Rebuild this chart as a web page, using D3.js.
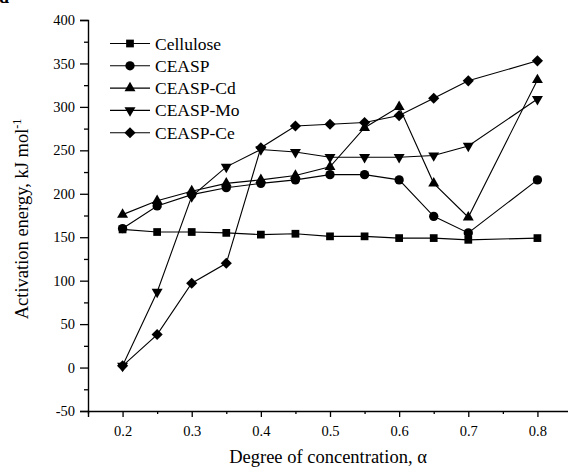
<!DOCTYPE html>
<html>
<head>
<meta charset="utf-8">
<script src="https://cdn.jsdelivr.net/npm/d3@7"></script>
<style>
  html, body { margin: 0; padding: 0; background: #fff; }
  svg { display: block; font-family: "Liberation Serif", "Times New Roman", serif; }
</style>
</head>
<body>
<svg id="chart" width="568" height="468"></svg>
<script>
// Degree of conversion values (x) and activation energies (kJ/mol) per sample
const alpha = [0.2, 0.25, 0.3, 0.35, 0.4, 0.45, 0.5, 0.55, 0.6, 0.65, 0.7, 0.8];
const seriesNames = ["Cellulose", "CEASP", "CEASP-Cd", "CEASP-Mo", "CEASP-Ce"];
const cellulose = [159, 156, 156, 155, 153, 154, 151, 151, 149, 149, 147, 149];
const ceasp     = [160, 186, 199, 207, 212, 216, 222, 222, 216, 174, 155, 216];
const ceaspCd   = [176, 192, 203, 212, 216, 221, 231, 276, 300, 212, 173, 331];
const ceaspMo   = [2, 87, 197, 231, 251, 248, 242, 242, 242, 244, 255, 309];
const ceaspCe   = [2, 38, 97, 120, 253, 278, 280, 282, 290, 310, 330, 353];
const xTicks = [0.2, 0.3, 0.4, 0.5, 0.6, 0.7, 0.8];
const yTicks = [-50, 0, 50, 100, 150, 200, 250, 300, 350, 400];

const seriesValues = [cellulose, ceasp, ceaspCd, ceaspMo, ceaspCe];

// square-on-point diamond (equal width and height)
const symbolRhombus = {
  draw(context, size) {
    const r = Math.sqrt(size / 2);
    context.moveTo(0, -r);
    context.lineTo(r, 0);
    context.lineTo(0, r);
    context.lineTo(-r, 0);
    context.closePath();
  }
};
const symbolTypes = [d3.symbolSquare, d3.symbolCircle, d3.symbolTriangle, d3.symbolTriangle, symbolRhombus];
const symbolSizes = [60, 68, 52, 52, 62];
const symbolFlip = [false, false, false, true, false];

const svg = d3.select("#chart");
const plotLeft = 88, plotTop = 20, plotRight = 572, plotBottom = 411;

const x = d3.scaleLinear().domain([0.15, 0.85]).range([plotLeft, plotRight]);
const y = d3.scaleLinear().domain([-50, 400]).range([plotBottom, plotTop]);

function markerPath(s) {
  return d3.symbol().type(symbolTypes[s]).size(symbolSizes[s])();
}
function markerTransform(s, px, py) {
  return `translate(${px},${py})` + (symbolFlip[s] ? " rotate(180)" : "");
}

// data lines
const line = d3.line().x((d, i) => x(alpha[i])).y(d => y(d));
const g = svg.append("g");
seriesValues.forEach(vals => {
  g.append("path")
    .attr("d", line(vals))
    .attr("fill", "none")
    .attr("stroke", "#000")
    .attr("stroke-width", 1.1);
});
seriesValues.forEach((vals, s) => {
  g.selectAll(null)
    .data(vals)
    .enter()
    .append("path")
    .attr("d", markerPath(s))
    .attr("transform", (d, i) => markerTransform(s, x(alpha[i]), y(d)))
    .attr("fill", "#000");
});

// axes
const tickFont = "14.5px";
const xAxis = d3.axisBottom(x).tickValues(xTicks).tickSize(6).tickPadding(9).tickFormat(d3.format(".1f"));
const xMinor = d3.axisBottom(x).tickValues([0.15, 0.25, 0.35, 0.45, 0.55, 0.65, 0.75, 0.85]).tickSize(3).tickFormat("");
const yAxis = d3.axisLeft(y).tickValues(yTicks).tickSize(8).tickPadding(5).tickFormat(d => String(d));
const yMinor = d3.axisLeft(y).tickValues([-25, 25, 75, 125, 175, 225, 275, 325, 375]).tickSize(4).tickFormat("");

function styleAxis(sel) {
  sel.select(".domain").attr("stroke", "#000").attr("stroke-width", 1.4);
  sel.selectAll(".tick line").attr("stroke", "#000").attr("stroke-width", 1.3);
  sel.selectAll(".tick text").attr("fill", "#000").style("font-size", tickFont)
     .style("font-family", "'Liberation Serif', 'Times New Roman', serif");
}
svg.append("g").attr("transform", `translate(0,${plotBottom})`).call(xAxis).call(styleAxis);
svg.append("g").attr("transform", `translate(0,${plotBottom})`).call(xMinor).call(styleAxis).select(".domain").remove();
svg.append("g").attr("transform", `translate(${plotLeft},0)`).call(yAxis).call(styleAxis);
svg.append("g").attr("transform", `translate(${plotLeft},0)`).call(yMinor).call(styleAxis).select(".domain").remove();

// axis titles
svg.append("text")
  .attr("x", 328).attr("y", 463)
  .attr("text-anchor", "middle")
  .style("font-size", "18.5px")
  .text("Degree of concentration, α");

const yTitle = svg.append("text")
  .attr("transform", "translate(27.5,219) rotate(-90)")
  .attr("text-anchor", "middle")
  .style("font-size", "18.5px");
yTitle.append("tspan").text("Activation energy, kJ mol");
yTitle.append("tspan").attr("dy", -7).style("font-size", "12px").text("-1");

// panel letter
svg.append("text")
  .attr("x", -1).attr("y", 3)
  .style("font-size", "18px").style("font-weight", "bold")
  .text("d");

// legend
const legend = svg.append("g");
seriesNames.forEach((name, s) => {
  const ly = 43.5 + s * 22.3;
  legend.append("line")
    .attr("x1", 110).attr("x2", 150).attr("y1", ly).attr("y2", ly)
    .attr("stroke", "#000").attr("stroke-width", 1.1);
  legend.append("path")
    .attr("d", markerPath(s))
    .attr("transform", markerTransform(s, 130, ly))
    .attr("fill", "#000");
  legend.append("text")
    .attr("x", 155).attr("y", ly + 6)
    .style("font-size", "17.5px")
    .text(name);
});
</script>
</body>
</html>
